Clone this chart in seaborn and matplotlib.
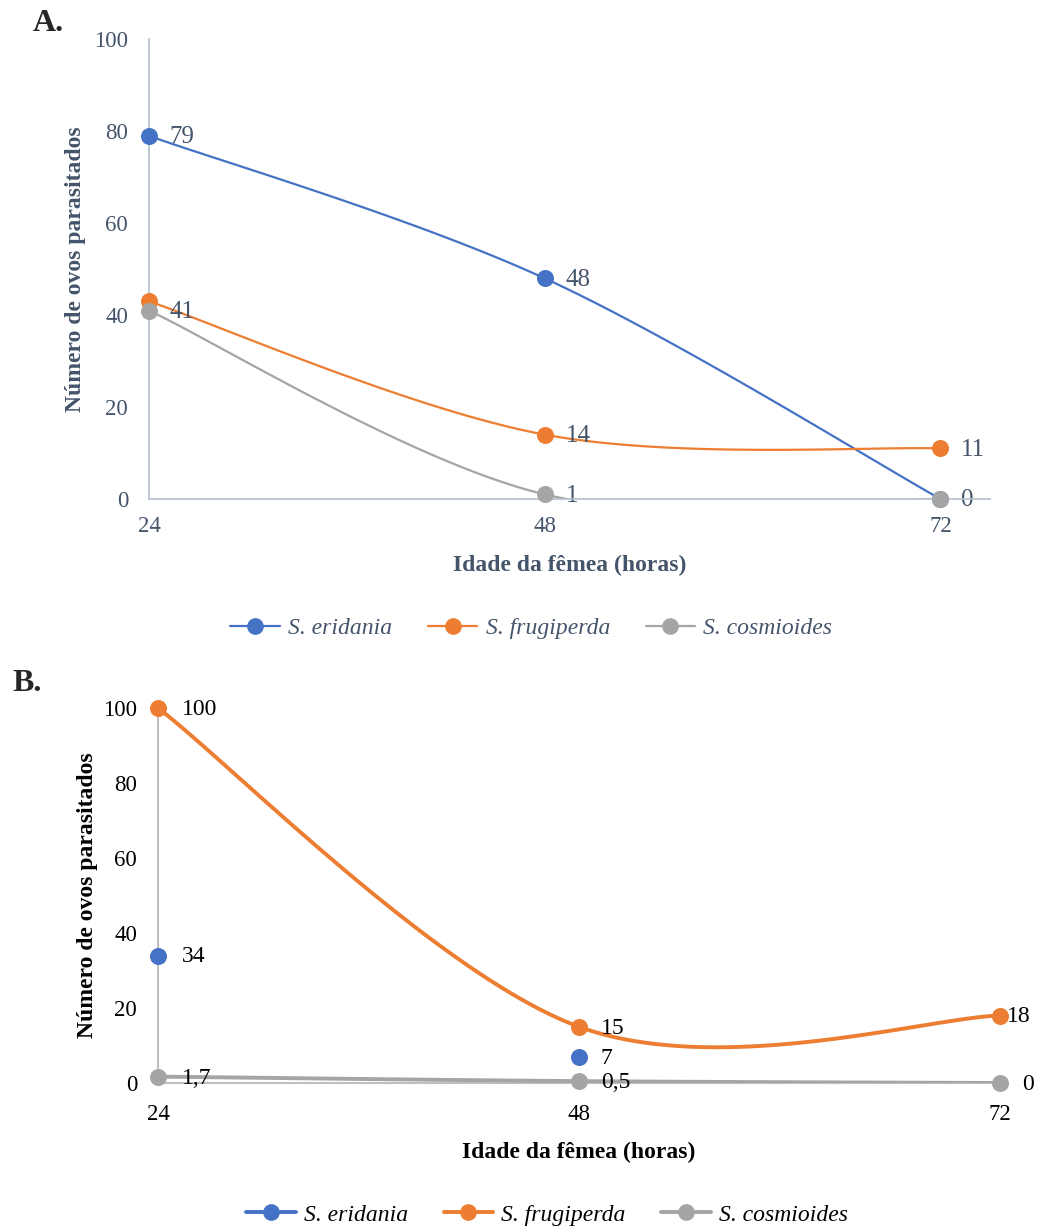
import matplotlib
matplotlib.use("Agg")
import matplotlib.pyplot as plt
import numpy as np
import seaborn as sns
from matplotlib.lines import Line2D

sns.set_theme(style="white")
plt.rcParams["font.family"] = ["Liberation Serif", "DejaVu Serif"]

# ---- data -------------------------------------------------------------
hours = [24, 48, 72]
species = ["S. eridania", "S. frugiperda", "S. cosmioides"]
colors = ["#4472C4", "#ED7D31", "#A5A5A5"]

# Panel A
a_eridania = [79, 48, 0]
a_frugiperda = [43, 14, 11]
a_cosmioides = [41, 1, 0]
a_show_labels = [[True, True, False], [False, True, True], [True, True, True]]

# Panel B
b_eridania = [34, 7, np.nan]
b_frugiperda = [100, 15, 18]
b_cosmioides = [1.7, 0.5, 0]
b_show_labels = [[True, True, False], [True, True, True], [True, True, True]]
b_label_dx = [[24, 22, 0], [24, 22, 7], [24, 22, 22]]

TEXT_A = "#44546A"


def smooth_curve(xs, ys, n=60):
    """Excel-like smoothed line (Catmull-Rom through the points)."""
    xs = np.asarray(xs, float)
    ys = np.asarray(ys, float)
    px = np.concatenate([[xs[0]], xs, [xs[-1]]])
    py = np.concatenate([[ys[0]], ys, [ys[-1]]])
    out_x, out_y = [], []
    t = np.linspace(0, 1, n)
    h00 = 2 * t**3 - 3 * t**2 + 1
    h10 = t**3 - 2 * t**2 + t
    h01 = -2 * t**3 + 3 * t**2
    h11 = t**3 - t**2
    for i in range(1, len(px) - 2):
        mx0 = (px[i + 1] - px[i - 1]) / 2
        mx1 = (px[i + 2] - px[i]) / 2
        my0 = (py[i + 1] - py[i - 1]) / 2
        my1 = (py[i + 2] - py[i]) / 2
        out_x.extend(h00 * px[i] + h10 * mx0 + h01 * px[i + 1] + h11 * mx1)
        out_y.extend(h00 * py[i] + h10 * my0 + h01 * py[i + 1] + h11 * my1)
    return np.array(out_x), np.array(out_y)


def fmt(v):
    return f"{v:g}".replace(".", ",")


fig = plt.figure(figsize=(10.42, 12.29), dpi=100)

# ---- Panel A ----------------------------------------------------------
axA = fig.add_axes([0.143, 0.594, 0.807, 0.374])
series_a = [a_eridania, a_frugiperda, a_cosmioides]
for vals, col in zip(series_a, colors):
    sx, sy = smooth_curve(hours, vals)
    axA.plot(sx, sy, color=col, lw=1.6, zorder=2)
for vals, col, show in zip(series_a, colors, a_show_labels):
    sns.scatterplot(x=hours, y=vals, color=col, s=150, edgecolor=col,
                    linewidth=0, ax=axA, zorder=4, clip_on=False)
    for x, v, s in zip(hours, vals, show):
        if s:
            axA.annotate(fmt(v), (x, v), xytext=(15, -1), textcoords="offset points",
                         ha="left", va="center", fontsize=18, color=TEXT_A)

axA.set_xlim(24, 75)
axA.set_ylim(0, 100)
axA.set_xticks(hours)
axA.set_yticks(range(0, 101, 20))
axA.tick_params(axis="y", length=0, labelsize=16.5, labelcolor=TEXT_A, pad=15)
axA.tick_params(axis="x", length=0, labelsize=16.5, labelcolor=TEXT_A, pad=12)
for side in ["top", "right"]:
    axA.spines[side].set_visible(False)
for side in ["left", "bottom"]:
    axA.spines[side].set_color("#B4C0D0")
    axA.spines[side].set_linewidth(1.2)
    axA.spines[side].set_zorder(3)
axA.set_xlabel("Idade da fêmea (horas)", fontsize=17, fontweight="bold",
               color=TEXT_A, labelpad=13)
axA.set_ylabel("Número de ovos parasitados", fontsize=17, fontweight="bold",
               color=TEXT_A, labelpad=6)

handles_a = [Line2D([0], [0], color=c, lw=1.6, marker="o", markersize=11)
             for c in colors]
fig.legend(handles_a, species, loc="center", bbox_to_anchor=(0.51, 0.489),
           ncol=3, frameon=False, handlelength=2.1, handletextpad=0.35,
           columnspacing=1.5,
           prop={"family": "Liberation Serif", "style": "italic", "size": 17},
           labelcolor=TEXT_A)

# ---- Panel B ----------------------------------------------------------
axB = fig.add_axes([0.1516, 0.1188, 0.8081, 0.3051])
series_b = [b_eridania, b_frugiperda, b_cosmioides]
for idx, (vals, col) in enumerate(zip(series_b, colors)):
    if idx > 0:
        sx, sy = smooth_curve(hours, vals)
        axB.plot(sx, sy, color=col, lw=2.8, zorder=2)
for vals, col, show, dxs in zip(series_b, colors, b_show_labels, b_label_dx):
    sns.scatterplot(x=hours, y=vals, color=col, s=150, edgecolor=col,
                    linewidth=0, ax=axB, zorder=4, clip_on=False)
    for x, v, s, dx in zip(hours, vals, show, dxs):
        if s and not np.isnan(v):
            axB.annotate(fmt(v), (x, v), xytext=(dx * 0.72, -1), textcoords="offset points",
                         ha="left", va="center", fontsize=17, color="black")

axB.set_xlim(24, 72)
axB.set_ylim(0, 100)
axB.set_xticks(hours)
axB.set_yticks(range(0, 101, 20))
axB.tick_params(axis="y", length=0, labelsize=16.5, labelcolor="black", pad=15)
axB.tick_params(axis="x", length=0, labelsize=16.5, labelcolor="black", pad=15)
for side in ["top", "right"]:
    axB.spines[side].set_visible(False)
for side in ["left", "bottom"]:
    axB.spines[side].set_color("#BFBFBF")
    axB.spines[side].set_linewidth(1.5)
    axB.spines[side].set_zorder(1)
axB.set_xlabel("Idade da fêmea (horas)", fontsize=17, fontweight="bold",
               color="black", labelpad=12)
axB.set_ylabel("Número de ovos parasitados", fontsize=17, fontweight="bold",
               color="black", labelpad=4)

handles_b = [Line2D([0], [0], color=c, lw=2.8, marker="o", markersize=11)
             for c in colors]
fig.legend(handles_b, species, loc="center", bbox_to_anchor=(0.525, 0.0114),
           ncol=3, frameon=False, handlelength=2.1, handletextpad=0.35,
           columnspacing=1.5,
           prop={"family": "Liberation Serif", "style": "italic", "size": 17},
           labelcolor="black")

fig.text(0.031, 0.981, "A.", fontsize=23, fontweight="bold", va="center")
fig.text(0.012, 0.444, "B.", fontsize=23, fontweight="bold", va="center")

fig.savefig("out.png", dpi=100)
